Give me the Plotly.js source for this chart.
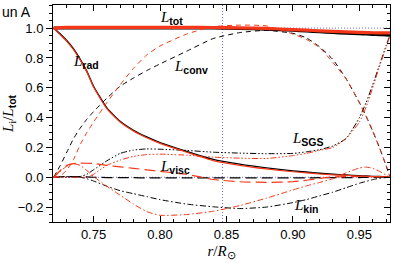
<!DOCTYPE html>
<html>
<head>
<meta charset="utf-8">
<script src="https://cdn.plot.ly/plotly-3.0.1.min.js"></script>
<style>html,body{margin:0;padding:0;background:#fff;}#chart{width:395px;height:263px;}</style>
</head>
<body>
<div id="chart"></div>
<script>
// radius grid (r / R_sun)
const r = [0.72,0.725,0.73,0.735,0.74,0.745,0.75,0.76,0.77,0.78,0.79,0.80,0.82,0.84,0.86,0.88,0.90,0.91,0.92,0.93,0.94,0.95,0.955,0.96,0.965,0.97,0.973];

// black run
const totBlack  = [1,1,1,1,1,1,1,1,1,1,1,1,1,1,0.998,0.993,0.985,0.98,0.975,0.97,0.966,0.962,0.96,0.958,0.956,0.954,0.953];
const radBlack  = [1.0,0.96,0.915,0.86,0.79,0.71,0.61,0.465,0.375,0.315,0.27,0.232,0.173,0.12,0.088,0.063,0.043,0.035,0.027,0.02,0.015,0.01,0.008,0.006,0.005,0.003,0.002];
const convBlack = [0,0.08,0.17,0.26,0.33,0.39,0.44,0.53,0.61,0.665,0.715,0.76,0.845,0.93,0.97,0.985,0.965,0.935,0.875,0.79,0.66,0.5,0.41,0.31,0.2,0.08,0.0];
const sgsBlack  = [0,0,0,0,0.005,0.02,0.05,0.11,0.16,0.182,0.19,0.188,0.18,0.168,0.162,0.158,0.16,0.17,0.185,0.21,0.26,0.4,0.5,0.62,0.75,0.88,0.955];
const viscBlack = [0,0.003,0.005,0.005,0.004,0.002,0,-0.002,-0.003,-0.003,-0.004,-0.004,-0.004,-0.004,-0.004,-0.004,-0.004,-0.004,-0.003,-0.003,-0.002,-0.002,-0.001,-0.001,0,0,0];
const kinBlack  = [0,0.003,0.004,0.003,0.0,-0.01,-0.025,-0.06,-0.09,-0.11,-0.13,-0.15,-0.18,-0.198,-0.21,-0.2,-0.17,-0.15,-0.125,-0.1,-0.07,-0.04,-0.028,-0.016,-0.007,-0.002,0];

// red run
const totRed  = [1,1.003,1.005,1.005,1.005,1.005,1.005,1.005,1.005,1.005,1.005,1.005,1.005,1.004,1.002,0.998,0.99,0.986,0.982,0.978,0.975,0.972,0.97,0.969,0.968,0.968,0.968];
const radRed  = [1.0,0.955,0.91,0.855,0.785,0.705,0.605,0.46,0.37,0.31,0.265,0.227,0.168,0.112,0.08,0.056,0.037,0.03,0.022,0.016,0.012,0.008,0.006,0.005,0.004,0.003,0.002];
const convRed = [0,0.01,0.05,0.12,0.22,0.3,0.37,0.5,0.62,0.73,0.82,0.88,0.96,1.01,1.02,1.015,0.96,0.925,0.87,0.77,0.66,0.5,0.41,0.31,0.2,0.08,0.0];
const sgsRed  = [0,0,0,0,0,0,0.02,0.08,0.115,0.14,0.152,0.155,0.148,0.135,0.128,0.126,0.145,0.16,0.18,0.2,0.26,0.37,0.47,0.6,0.74,0.87,0.95];
const viscRed = [0,0.045,0.08,0.092,0.095,0.094,0.092,0.08,0.07,0.06,0.05,0.04,0.02,-0.015,-0.03,-0.034,-0.03,-0.02,-0.008,0.002,0.004,0.005,0.005,0.004,0.003,0.001,0];
const kinRed  = [0,0.04,0.075,0.09,0.08,0.045,0.005,-0.06,-0.12,-0.18,-0.23,-0.255,-0.25,-0.228,-0.19,-0.14,-0.085,-0.058,-0.035,-0.01,0.03,0.062,0.068,0.06,0.04,0.015,0];

// reference markers
const rMark = 0.847;
const refLevels = [0, 1];
const xRange = [0.7195, 0.973];
const yRange = [-0.30, 1.155];

// label texts
const labels = [
  {name:'tot',  x:0.809, y:1.068},
  {name:'rad',  x:0.7445, y:0.775},
  {name:'conv', x:0.823, y:0.74},
  {name:'SGS',  x:0.911, y:0.258},
  {name:'visc', x:0.811, y:0.068},
  {name:'kin',  x:0.910, y:-0.19}
];

const BLACK = '#000000';
const RED = 'rgb(245,55,25)';
const BLUE = 'rgb(110,110,235)';
const DOT = '1px,2px';
const DASH = '5px,4px';
const LONGDASH = '11px,5px';
const DASHDOT = '6px,2.5px,1.5px,2.5px';
const DASH3DOT = '6px,2px,1.5px,2px,1.5px,2px,1.5px,2px';

function tr(y, color, dash, width) {
  return {x: r, y: y, type: 'scatter', mode: 'lines', hoverinfo: 'skip',
    line: {color: color, dash: dash, width: width, shape: 'spline', smoothing: 0.5}};
}

const traces = [
  // reference lines
  {x: [rMark, rMark], y: yRange, mode: 'lines', line: {color: BLUE, dash: DOT, width: 1}},
  {x: xRange, y: [refLevels[1], refLevels[1]], mode: 'lines', line: {color: BLUE, dash: DOT, width: 1}},
  {x: xRange, y: [refLevels[0], refLevels[0]], mode: 'lines', line: {color: BLUE, dash: DOT, width: 1}},
  // black run
  tr(radBlack, BLACK, 'solid', 1.4),
  tr(convBlack, BLACK, DASH, 1),
  tr(sgsBlack, BLACK, DASH3DOT, 1),
  tr(viscBlack, BLACK, LONGDASH, 1.2),
  tr(kinBlack, BLACK, DASHDOT, 1),
  tr(totBlack, BLACK, 'solid', 3),
  // red run
  tr(radRed, RED, 'solid', 1.2),
  tr(convRed, RED, DASH, 1),
  tr(sgsRed, RED, DASH3DOT, 1),
  tr(viscRed, RED, LONGDASH, 1.2),
  tr(kinRed, RED, DASHDOT, 1),
  tr(totRed, RED, 'solid', 3.2)
];

const serif = 'Liberation Serif, Times New Roman, serif';
const sans = 'Liberation Sans, Arial, sans-serif';

const annotations = labels.map(l => ({
  x: l.x, y: l.y, xref: 'x', yref: 'y', showarrow: false,
  text: '<i>L</i><sub><span style="font-family:Liberation Sans;font-weight:bold">' + l.name + '</span></sub>',
  font: {family: serif, size: 15, color: '#000'},
  xanchor: 'center', yanchor: 'middle'
}));
annotations.push({
  xref: 'paper', yref: 'paper', x: -0.157, y: 0.968, xanchor: 'left', yanchor: 'middle',
  showarrow: false, text: 'un A', font: {family: sans, size: 14, color: '#000'}
});

const axisCommon = {
  showgrid: false, zeroline: false, showline: true, linecolor: '#000', linewidth: 1,
  tickfont: {family: sans, size: 13, color: '#000'}, tickcolor: '#000'
};

const layout = {
  width: 395, height: 263,
  margin: {l: 53, r: 5, t: 5, b: 41},
  paper_bgcolor: '#fff', plot_bgcolor: '#fff',
  showlegend: false,
  xaxis: Object.assign({}, axisCommon, {
    range: xRange, tickvals: [0.75, 0.80, 0.85, 0.90, 0.95], ticktext: ['0.75','0.80','0.85','0.90','0.95'],
    ticks: 'inside', ticklen: 6, mirror: 'ticks',
    minor: {dtick: 0.01, tick0: 0.70, ticks: 'inside', ticklen: 3, tickcolor: '#000'},
    title: {text: '<i>r</i>/<i>R</i><sub>⊙</sub>', font: {family: serif, size: 15, color: '#000'}, standoff: 4}
  }),
  yaxis: Object.assign({}, axisCommon, {
    range: yRange, tickvals: [-0.2, 0.0, 0.2, 0.4, 0.6, 0.8, 1.0], ticktext: ['−0.2','0.0','0.2','0.4','0.6','0.8','1.0'],
    ticks: 'outside', ticklen: 6,
    minor: {dtick: 0.05, tick0: 0, ticks: 'outside', ticklen: 3, tickcolor: '#000'},
    title: {text: '<i>L</i><sub>i</sub>/<i>L</i><sub><span style="font-family:Liberation Sans;font-weight:bold">tot</span></sub>', font: {family: serif, size: 15, color: '#000'}, standoff: 6}
  }),
  yaxis2: Object.assign({}, axisCommon, {
    range: yRange, overlaying: 'y', side: 'right', showticklabels: false,
    tickvals: [-0.2, 0.0, 0.2, 0.4, 0.6, 0.8, 1.0],
    ticks: 'inside', ticklen: 6,
    minor: {dtick: 0.05, tick0: 0, ticks: 'inside', ticklen: 3, tickcolor: '#000'}
  }),
  annotations: annotations
};

// dummy trace to show the right axis
traces.push({x: [xRange[0]], y: [0], yaxis: 'y2', mode: 'lines', hoverinfo: 'skip', line: {width: 0}});

Plotly.newPlot('chart', traces, layout, {staticPlot: true, displayModeBar: false});
</script>
</body>
</html>
